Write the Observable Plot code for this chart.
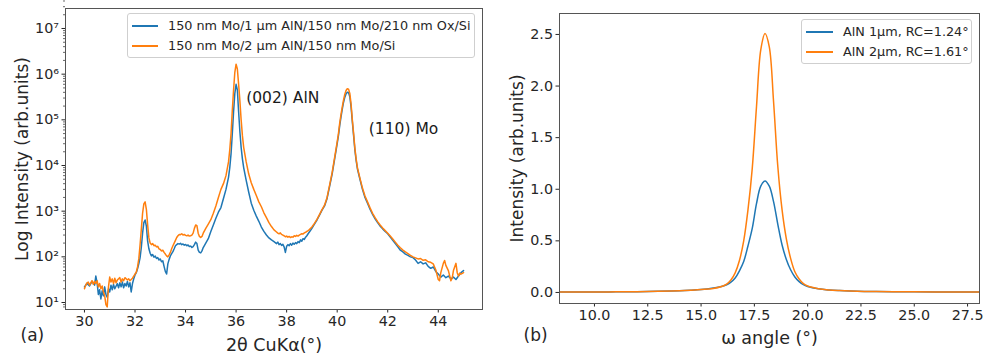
<!DOCTYPE html>
<html><head><meta charset="utf-8">
<script src="https://cdn.jsdelivr.net/npm/d3@7"></script>
<script src="https://cdn.jsdelivr.net/npm/@observablehq/plot@0.6"></script>
<style>
html,body{margin:0;padding:0;background:#fff;}
#wrap{position:relative;width:985px;height:355px;overflow:hidden;font-family:"DejaVu Sans",sans-serif;color:#262626;background:#fff;}
.panel{position:absolute;top:0;}
.legend{position:absolute;background:rgba(255,255,255,0.85);border:1px solid #cfcfcf;border-radius:3px;font-size:12.8px;box-sizing:border-box;}
.legend .sw{position:absolute;height:2px;}
.legend .lt{position:absolute;white-space:nowrap;line-height:14px;}
</style></head><body><div id="wrap"></div>
<script>
// ---------- Panel (a): XRD 2θ scans ----------
const blueLabelA = "150 nm Mo/1 µm AlN/150 nm Mo/210 nm Ox/Si";
const orangeLabelA = "150 nm Mo/2 µm AlN/150 nm Mo/Si";
const blueXRD = [
[30.0,22],[30.1,26],[30.2,23],[30.3,29],[30.4,24],[30.45,38],[30.5,27],[30.55,15],[30.6,19],[30.65,12],
[30.7,18],[30.75,14],[30.8,22],[30.85,15],[30.9,13],[30.95,20],[31.0,17],[31.05,24],[31.1,19],[31.15,25],
[31.2,20],[31.3,26],[31.35,21],[31.4,27],[31.45,22],[31.5,28],[31.55,21],[31.6,26],[31.65,23],[31.7,29],
[31.75,22],[31.8,27],[31.85,17],[31.9,26],[31.95,33],[32.0,40],[32.05,45],[32.1,55],[32.15,70],[32.2,95],
[32.25,160],[32.3,330],[32.35,560],[32.4,640],[32.45,470],[32.5,220],[32.55,150],[32.6,120],[32.65,105],[32.7,112],
[32.75,98],[32.8,104],[32.85,92],[32.9,96],[32.95,85],[33.0,90],[33.05,78],[33.1,82],[33.15,62],[33.2,48],
[33.25,42],[33.3,70],[33.35,88],[33.4,105],[33.45,118],[33.5,130],[33.55,150],[33.6,175],[33.65,185],[33.7,195],
[33.75,190],[33.8,198],[33.85,185],[33.9,192],[33.95,180],[34.0,186],[34.05,175],[34.1,182],[34.15,168],[34.2,172],
[34.25,160],[34.3,168],[34.35,185],[34.4,210],[34.45,195],[34.5,140],[34.55,125],[34.6,122],[34.65,135],[34.7,160],
[34.8,200],[34.9,250],[35.0,360],[35.1,500],[35.2,700],[35.3,950],[35.4,1200],[35.5,1900],[35.6,3000],[35.7,5500],
[35.75,9000],[35.8,18000],[35.85,50000],[35.9,150000],[35.95,380000],[36.0,600000],[36.05,450000],[36.1,150000],[36.15,55000],[36.2,25000],
[36.25,14000],[36.3,9000],[36.4,4700],[36.5,2600],[36.6,1500],[36.7,1050],[36.8,780],[36.9,600],[37.0,450],[37.1,360],
[37.2,300],[37.3,260],[37.4,235],[37.5,215],[37.55,205],[37.6,195],[37.65,210],[37.7,185],[37.75,195],[37.8,178],
[37.85,188],[37.9,165],[37.95,125],[38.0,170],[38.05,185],[38.1,175],[38.15,195],[38.2,180],[38.25,200],[38.3,188],
[38.35,205],[38.4,195],[38.45,215],[38.5,205],[38.55,235],[38.6,220],[38.65,250],[38.7,240],[38.75,270],[38.8,290],
[38.85,320],[38.9,350],[39.0,420],[39.1,520],[39.2,640],[39.3,820],[39.4,1050],[39.5,1300],[39.6,1900],[39.7,3500],
[39.8,6500],[39.9,14000],[40.0,30000],[40.05,45000],[40.1,75000],[40.15,115000],[40.2,170000],[40.25,240000],[40.3,310000],[40.35,370000],
[40.4,400000],[40.45,395000],[40.5,320000],[40.55,190000],[40.6,90000],[40.65,45000],[40.7,22000],[40.75,13000],[40.8,8500],[40.9,5000],
[41.0,3000],[41.1,2000],[41.2,1500],[41.3,1100],[41.4,850],[41.5,680],[41.6,560],[41.7,470],[41.8,410],[41.9,360],
[42.0,320],[42.1,270],[42.2,230],[42.3,195],[42.4,165],[42.5,140],[42.6,128],[42.7,115],[42.8,108],[42.9,100],
[43.0,96],[43.1,85],[43.2,72],[43.3,78],[43.4,70],[43.5,74],[43.6,62],[43.7,56],[43.8,60],[43.9,48],
[44.0,42],[44.1,36],[44.2,40],[44.3,35],[44.4,38],[44.5,33],[44.6,36],[44.7,32],[44.8,38],[44.9,45],[45.0,50]
];
const orangeXRD = [
[30.0,20],[30.05,24],[30.1,27],[30.15,28],[30.2,24],[30.3,30],[30.35,25],[30.4,29],[30.45,26],[30.5,30],
[30.55,22],[30.6,26],[30.65,20],[30.7,23],[30.75,17],[30.8,14],[30.85,9],[30.9,8],[30.95,22],[31.0,36],
[31.05,28],[31.1,33],[31.15,26],[31.2,34],[31.25,27],[31.3,31],[31.4,35],[31.45,28],[31.5,33],[31.55,30],
[31.6,35],[31.7,31],[31.75,33],[31.8,30],[31.9,34],[31.95,38],[32.0,42],[32.05,46],[32.1,60],[32.15,90],
[32.2,180],[32.25,400],[32.3,900],[32.35,1450],[32.4,1600],[32.45,1100],[32.5,500],[32.55,260],[32.6,200],[32.65,185],
[32.7,195],[32.75,175],[32.8,180],[32.85,165],[32.9,170],[32.95,150],[33.0,145],[33.05,135],[33.1,140],[33.15,125],
[33.2,115],[33.25,105],[33.3,100],[33.35,110],[33.4,125],[33.45,150],[33.5,175],[33.55,200],[33.6,230],[33.65,265],
[33.7,290],[33.75,310],[33.8,305],[33.85,320],[33.9,300],[33.95,310],[34.0,295],[34.05,290],[34.1,300],[34.15,285],
[34.2,290],[34.25,300],[34.3,330],[34.35,420],[34.4,500],[34.45,480],[34.5,330],[34.55,280],[34.6,265],[34.65,280],
[34.7,330],[34.8,420],[34.9,520],[35.0,650],[35.1,900],[35.2,1300],[35.3,2000],[35.4,3000],[35.5,4000],[35.6,6000],
[35.7,12000],[35.75,22000],[35.8,50000],[35.85,160000],[35.9,450000],[35.95,1100000],[36.0,1650000],[36.05,1300000],[36.1,600000],[36.15,260000],
[36.2,100000],[36.25,45000],[36.3,25000],[36.4,12000],[36.5,6500],[36.6,4200],[36.7,3000],[36.8,2200],[36.9,1600],[37.0,1250],
[37.1,920],[37.2,720],[37.3,560],[37.4,460],[37.5,390],[37.6,350],[37.65,330],[37.7,320],[37.75,335],[37.8,310],
[37.85,300],[37.9,290],[37.95,275],[38.0,285],[38.05,270],[38.1,280],[38.15,265],[38.2,275],[38.25,270],[38.3,290],
[38.35,280],[38.4,295],[38.45,285],[38.5,300],[38.55,310],[38.6,320],[38.65,315],[38.7,335],[38.75,345],[38.8,360],
[38.85,375],[38.9,395],[39.0,450],[39.1,540],[39.2,660],[39.3,840],[39.4,1080],[39.5,1350],[39.6,2000],[39.7,3700],
[39.8,7000],[39.9,15000],[40.0,33000],[40.05,50000],[40.1,85000],[40.15,130000],[40.2,190000],[40.25,270000],[40.3,360000],[40.35,440000],
[40.4,480000],[40.45,470000],[40.5,380000],[40.55,220000],[40.6,100000],[40.65,50000],[40.7,24000],[40.75,14000],[40.8,9000],[40.9,5300],
[41.0,3200],[41.1,2150],[41.2,1600],[41.3,1180],[41.4,900],[41.5,720],[41.6,590],[41.7,500],[41.8,430],[41.9,375],
[42.0,330],[42.1,285],[42.2,245],[42.3,210],[42.4,180],[42.5,158],[42.6,140],[42.7,128],[42.8,118],[42.9,108],
[43.0,100],[43.1,95],[43.2,90],[43.3,92],[43.4,84],[43.5,86],[43.6,78],[43.7,76],[43.8,70],[43.9,52],
[44.0,32],[44.05,30],[44.1,45],[44.2,72],[44.25,83],[44.3,65],[44.4,50],[44.5,30],[44.55,34],[44.6,50],
[44.7,72],[44.75,45],[44.8,38],[44.85,44],[44.9,42],[45.0,45]
];
const xTicksA = [30, 32, 34, 36, 38, 40, 42, 44];
const yTicksA = [1e1, 1e2, 1e3, 1e4, 1e5, 1e6, 1e7];
const yMinorA = [];
for (const p of [1, 2, 3, 4, 5, 6, 7]) for (const m of [2,3,4,5,6,7,8,9]) yMinorA.push(m * 10 ** p);
yMinorA.push(8, 9);
const peakLabelsA = [
  {t: "(002) AlN", x: 36.40, y: 3.0e5},
  {t: "(110) Mo", x: 41.25, y: 6.4e4}
];
const xLabelA = "2θ CuKα(°)";
const yLabelA = "Log Intensity (arb.units)";

// ---------- Panel (b): rocking curves ----------
const blueLabelB = "AlN 1µm, RC=1.24°";
const orangeLabelB = "AlN 2µm, RC=1.61°";
const rcAngle = [8.4,10,11,12,13,14,14.5,15,15.5,16,16.2,16.4,16.6,16.8,17,17.2,17.4,17.6,17.8,18,18.2,18.4,18.6,18.8,19,19.2,19.4,19.6,19.8,20,20.5,21,21.5,22,23,24,25,26,27,28.1];
const rcBlue = [0.004,0.005,0.006,0.008,0.011,0.016,0.021,0.028,0.04,0.06,0.075,0.10,0.14,0.21,0.30,0.45,0.62,0.86,1.03,1.08,1.03,0.88,0.66,0.46,0.32,0.22,0.15,0.105,0.075,0.058,0.035,0.024,0.018,0.014,0.009,0.007,0.006,0.005,0.004,0.004];
const rcOrange = [0.004,0.005,0.006,0.008,0.011,0.016,0.021,0.028,0.036,0.06,0.08,0.12,0.19,0.31,0.50,0.80,1.20,1.80,2.35,2.51,2.38,1.85,1.22,0.80,0.52,0.33,0.20,0.13,0.085,0.062,0.036,0.024,0.018,0.014,0.009,0.007,0.006,0.005,0.004,0.004];
const xTicksB = [10, 12.5, 15, 17.5, 20, 22.5, 25, 27.5];
const yTicksB = [0, 0.5, 1, 1.5, 2, 2.5];
const xLabelB = "ω angle (°)";
const yLabelB = "Intensity (arb.units)";

const BLUE = "#1f77b4", ORANGE = "#ff7f0e";
const sup = {0:"⁰",1:"¹",2:"²",3:"³",4:"⁴",5:"⁵",6:"⁶",7:"⁷",8:"⁸",9:"⁹"};
const logFmt = d => "10" + sup[Math.round(Math.log10(d))];

const wrap = document.getElementById("wrap");
const common = {fontFamily: "DejaVu Sans, sans-serif", fontSize: "14px", color: "#262626", background: "transparent", overflow: "visible"};

const plotA = Plot.plot({
  width: 490, height: 355,
  marginLeft: 65, marginRight: 8, marginTop: 8, marginBottom: 46,
  style: common,
  x: {domain: [29.25, 45.75]},
  y: {type: "log", domain: [7.03, 2.74e7]},
  marks: [
    Plot.axisX({ticks: xTicksA, tickSize: 3.5, tickPadding: 3, tickFormat: d => String(d), label: null, fontSize: 14.3}),
    Plot.axisY({ticks: yTicksA, tickSize: 3.5, tickPadding: 3, tickFormat: logFmt, label: null, fontSize: 14.3}),
    Plot.axisY({ticks: yMinorA, tickSize: 2, tickFormat: () => "", label: null, strokeWidth: 0.7}),
    Plot.line(blueXRD, {x: d => d[0], y: d => d[1], stroke: BLUE, strokeWidth: 1.5, clip: true}),
    Plot.line(orangeXRD, {x: d => d[0], y: d => d[1], stroke: ORANGE, strokeWidth: 1.5, clip: true}),
    Plot.text(peakLabelsA, {x: "x", y: "y", text: "t", textAnchor: "start", fontSize: 15.5, fill: "#1a1a1a"}),
    Plot.text([xLabelA], {frameAnchor: "bottom", dy: 36, text: d => d, fontSize: 17.5, textAnchor: "middle", lineAnchor: "middle"}),
    Plot.text([yLabelA], {frameAnchor: "left", dx: -43, rotate: -90, text: d => d, fontSize: 17, textAnchor: "middle", lineAnchor: "middle"}),
    Plot.text(["(a)"], {frameAnchor: "bottom-left", dx: -45, dy: 26, textAnchor: "start", lineAnchor: "middle", text: d => d, fontSize: 17}),
    Plot.frame({stroke: "#555", strokeWidth: 1})
  ]
});
plotA.classList.add("panel"); plotA.style.left = "0px";
wrap.appendChild(plotA);

const rcRows = rcAngle.map((a, i) => ({a, b: rcBlue[i], o: rcOrange[i]}));
const plotB = Plot.plot({
  width: 495, height: 355,
  marginLeft: 69, marginRight: 6, marginTop: 13, marginBottom: 52,
  style: common,
  x: {domain: [8.36, 28.06]},
  y: {domain: [-0.107, 2.703]},
  marks: [
    Plot.axisX({ticks: xTicksB, tickSize: 3.5, tickPadding: 3, tickFormat: d3.format(".1f"), label: null, fontSize: 14.3}),
    Plot.axisY({ticks: yTicksB, tickSize: 3.5, tickPadding: 3, tickFormat: d3.format(".1f"), label: null, fontSize: 14.3}),
    Plot.line(rcRows, {x: "a", y: "b", stroke: BLUE, strokeWidth: 1.5, curve: "catmull-rom", clip: true}),
    Plot.line(rcRows, {x: "a", y: "o", stroke: ORANGE, strokeWidth: 1.5, curve: "catmull-rom", clip: true}),
    Plot.text([xLabelB], {frameAnchor: "bottom", dy: 35, text: d => d, fontSize: 17.5, textAnchor: "middle", lineAnchor: "middle"}),
    Plot.text([yLabelB], {frameAnchor: "left", dx: -42, rotate: -90, text: d => d, fontSize: 17, textAnchor: "middle", lineAnchor: "middle"}),
    Plot.text(["(b)"], {frameAnchor: "bottom-left", dx: -36, dy: 32, textAnchor: "start", lineAnchor: "middle", text: d => d, fontSize: 17}),
    Plot.frame({stroke: "#555", strokeWidth: 1})
  ]
});
plotB.classList.add("panel"); plotB.style.left = "490px";
wrap.appendChild(plotB);

// Legends (matplotlib-style boxes)
function legend(left, top, w, h, items, swLeft, swW, txtLeft) {
  const box = document.createElement("div");
  box.className = "legend";
  Object.assign(box.style, {left: left + "px", top: top + "px", width: w + "px", height: h + "px"});
  items.forEach((it, i) => {
    const cy = 12 + i * 20;
    const sw = document.createElement("div");
    sw.className = "sw";
    Object.assign(sw.style, {left: swLeft + "px", width: swW + "px", top: (cy - 1) + "px", background: it.c});
    const tx = document.createElement("div");
    tx.className = "lt";
    tx.textContent = it.t;
    Object.assign(tx.style, {left: txtLeft + "px", top: (cy - 7) + "px"});
    box.appendChild(sw); box.appendChild(tx);
  });
  wrap.appendChild(box);
}
legend(127, 13, 348, 45, [{t: blueLabelA, c: BLUE}, {t: orangeLabelA, c: ORANGE}], 4, 26, 40);
legend(801, 19, 171, 45, [{t: blueLabelB, c: BLUE}, {t: orangeLabelB, c: ORANGE}], 4, 27, 41);
</script></body></html>
